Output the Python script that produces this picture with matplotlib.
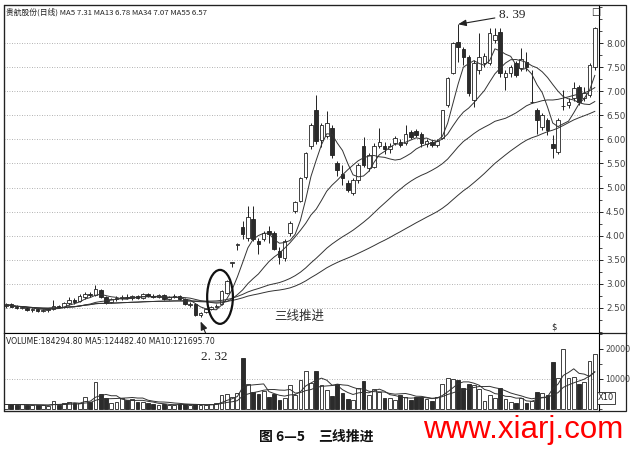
import matplotlib
matplotlib.use('Agg')
import matplotlib.pyplot as plt
from matplotlib.patches import Ellipse, Rectangle
from matplotlib.lines import Line2D
from matplotlib.ticker import MultipleLocator, FormatStrFormatter
import numpy as np
import pandas as pd

# daily prices (index = trading day)
opens = [2.55, 2.58, 2.52, 2.50, 2.50, 2.46, 2.47, 2.44, 2.45, 2.48,
         2.54, 2.52, 2.60, 2.66, 2.64, 2.72, 2.80, 2.76, 2.88, 2.72,
         2.62, 2.68, 2.70, 2.72, 2.70, 2.74, 2.70, 2.78, 2.74, 2.72,
         2.76, 2.68, 2.72, 2.74, 2.68, 2.57, 2.58, 2.36, 2.42, 2.48,
         2.52, 2.58, 2.82, 3.44, 3.80, 4.19, 3.96, 4.35, 3.90, 3.94,
         4.10, 4.06, 3.69, 3.54, 4.06, 4.52, 4.73, 5.21, 5.87, 6.62,
         5.98, 6.08, 6.23, 5.50, 5.29, 5.10, 4.88, 5.15, 5.87, 5.40,
         5.42, 5.87, 5.87, 5.79, 5.92, 5.94, 5.92, 6.15, 6.17, 6.12,
         5.90, 5.94, 5.88, 6.02, 6.71, 7.37, 8.02, 7.87, 7.71, 6.81,
         7.44, 7.58, 7.58, 8.06, 8.23, 7.29, 7.37, 7.58, 7.48, 7.60,
         6.77, 6.60, 6.25, 6.40, 5.90, 5.73, 6.69, 6.71, 6.85, 7.08,
         6.85, 6.92, 7.50]
highs = [2.60, 2.60, 2.56, 2.55, 2.52, 2.50, 2.50, 2.48, 2.50, 2.66,
         2.57, 2.62, 2.72, 2.70, 2.78, 2.84, 2.84, 2.97, 2.90, 2.75,
         2.70, 2.74, 2.76, 2.78, 2.76, 2.77, 2.82, 2.82, 2.78, 2.78,
         2.78, 2.74, 2.80, 2.76, 2.70, 2.62, 2.60, 2.42, 2.50, 2.54,
         2.58, 2.88, 3.08, 3.45, 3.85, 4.31, 4.62, 4.62, 3.95, 4.10,
         4.21, 4.10, 3.76, 3.94, 4.30, 4.72, 5.22, 5.74, 6.33, 6.92,
         6.35, 6.58, 6.30, 5.55, 5.46, 5.15, 5.20, 5.50, 6.04, 5.72,
         5.92, 6.23, 5.95, 5.92, 6.06, 6.00, 6.30, 6.20, 6.22, 6.15,
         6.00, 5.98, 6.00, 6.62, 7.30, 8.02, 8.39, 7.92, 7.75, 7.65,
         8.20, 7.80, 8.31, 8.31, 8.31, 7.45, 7.55, 7.62, 7.90, 7.81,
         7.45, 6.65, 6.55, 6.45, 6.10, 6.45, 7.02, 6.85, 7.20, 7.12,
         7.08, 7.58, 8.33]
lows = [2.50, 2.52, 2.48, 2.47, 2.44, 2.42, 2.42, 2.41, 2.42, 2.46,
        2.49, 2.50, 2.56, 2.58, 2.62, 2.68, 2.72, 2.74, 2.70, 2.58,
        2.60, 2.64, 2.66, 2.68, 2.67, 2.68, 2.69, 2.72, 2.70, 2.70,
        2.66, 2.66, 2.70, 2.66, 2.56, 2.52, 2.34, 2.32, 2.40, 2.45,
        2.49, 2.56, 2.80, 3.34, 3.70, 3.94, 3.90, 3.90, 3.62, 3.90,
        3.85, 3.70, 3.42, 3.48, 4.00, 4.48, 4.70, 5.18, 5.80, 5.90,
        5.85, 6.02, 5.62, 5.25, 5.05, 4.90, 4.85, 5.10, 5.42, 5.35,
        5.40, 5.82, 5.70, 5.72, 5.88, 5.84, 5.88, 6.00, 6.04, 5.85,
        5.85, 5.84, 5.85, 6.00, 6.68, 7.35, 7.60, 7.55, 6.90, 6.67,
        7.35, 7.50, 7.55, 8.00, 7.30, 7.02, 7.30, 7.30, 7.42, 7.42,
        6.75, 6.12, 6.20, 6.10, 5.62, 5.70, 6.62, 6.65, 6.80, 6.72,
        6.80, 6.88, 7.45]
closes = [2.57, 2.53, 2.50, 2.52, 2.46, 2.48, 2.44, 2.46, 2.48, 2.55,
          2.51, 2.60, 2.66, 2.62, 2.74, 2.80, 2.76, 2.90, 2.72, 2.60,
          2.68, 2.70, 2.73, 2.70, 2.74, 2.70, 2.79, 2.74, 2.72, 2.76,
          2.68, 2.72, 2.75, 2.68, 2.58, 2.59, 2.36, 2.40, 2.48, 2.52,
          2.55, 2.85, 3.05, 3.44, 3.83, 4.04, 4.38, 3.94, 3.83, 4.06,
          4.04, 3.73, 3.56, 3.90, 4.27, 4.69, 5.19, 5.71, 6.29, 5.96,
          6.29, 6.33, 5.67, 5.37, 5.19, 4.94, 5.15, 5.46, 5.46, 5.67,
          5.87, 5.94, 5.81, 5.87, 6.02, 5.88, 6.12, 6.04, 6.10, 5.92,
          5.96, 5.88, 5.96, 6.60, 7.27, 8.00, 7.92, 7.71, 6.96, 7.58,
          7.71, 7.73, 8.21, 8.17, 7.37, 7.37, 7.50, 7.33, 7.67, 7.50,
          6.78, 6.40, 6.50, 6.19, 5.83, 6.40, 6.70, 6.77, 7.06, 6.77,
          6.96, 7.54, 8.31]
# volume in units of x10
volumes = [1500, 1500, 1400, 1500, 1300, 1200, 1300, 1200, 1100, 2700,
           1300, 1900, 2400, 2100, 1900, 4100, 2400, 9100, 4900, 3800,
           1900, 2400, 3500, 3000, 3300, 2200, 2400, 1900, 1700, 1300,
           1500, 1300, 1400, 1800, 1500, 1300, 1600, 1300, 1300, 1500,
           1900, 4700, 4900, 4100, 5200, 16900, 8200, 5800, 4900, 6000,
           4100, 4900, 3000, 3500, 8000, 4700, 9700, 12500, 8500, 12700,
           8000, 6300, 4300, 8200, 5400, 3300, 3000, 6900, 9300, 4500,
           6600, 5800, 3500, 3500, 3000, 4500, 4100, 3000, 4100, 4100,
           3300, 2800, 4100, 8200, 10200, 10000, 9700, 7100, 8200, 8000,
           6600, 2700, 4700, 3600, 6900, 3300, 2200, 2100, 3800, 2100,
           2700, 5500, 5200, 4700, 15800, 10200, 20000, 10200, 10800, 8200,
           8900, 16000, 18300]

price_ticks = [2.50, 3.00, 3.50, 4.00, 4.50, 5.00, 5.50, 6.00, 6.50, 7.00, 7.50, 8.00]
vol_ticks = [10000, 20000]
ma_windows = [5, 13, 34, 55]
header = '贵航股份(日线) MA5 7.31 MA13 6.78 MA34 7.07 MA55 6.57'
vol_header = 'VOLUME:184294.80 MA5:124482.40 MA10:121695.70'

W, H = 631, 450
ink = '#222222'
dark = '#2b2b2b'
cjk = ['Noto Sans CJK SC', 'DejaVu Sans']

fig = plt.figure(figsize=(W / 100, H / 100), dpi=100)
ax = fig.add_axes([4 / W, 1 - 333 / H, 595 / W, 328 / H])
axv = fig.add_axes([4 / W, 1 - 411 / H, 595 / W, 78 / H], sharex=ax)

x = np.arange(len(closes))
o = np.array(opens)
c = np.array(closes)
up = c >= o
body_bot = np.minimum(o, c)
body_h = np.maximum(np.abs(c - o), 0.012)

# candles
ax.vlines(x, lows, highs, color=ink, lw=0.7, zorder=2)
ax.bar(x[up], body_h[up], bottom=body_bot[up], width=0.68, color='white',
       edgecolor=ink, linewidth=0.6, zorder=3)
ax.bar(x[~up], body_h[~up], bottom=body_bot[~up], width=0.68, color=dark,
       edgecolor=ink, linewidth=0.6, zorder=3)

# moving averages
cs = pd.Series(closes)
for n in ma_windows:
    ax.plot(x, cs.rolling(n, min_periods=1).mean(), color='#333333', lw=0.7, zorder=4)

ax.set_xlim(-0.4, 112.8)
ax.set_ylim(1.98, 8.79)
ax.yaxis.tick_right()
ax.set_yticks(price_ticks)
ax.yaxis.set_major_formatter(FormatStrFormatter('%.2f'))
ax.yaxis.set_minor_locator(MultipleLocator(0.25))
ax.tick_params(axis='y', which='major', length=3, width=0.6, labelsize=6.3,
               labelcolor='#444444', pad=2)
ax.tick_params(axis='y', which='minor', length=2, width=0.5)
ax.tick_params(axis='x', bottom=False, labelbottom=False)
ax.grid(axis='y', linestyle=(0, (1, 2)), color='#999999', lw=0.6)
for s in ax.spines.values():
    s.set_linewidth(0.8)

# volume bars
v = np.array(volumes)
axv.bar(x[up], v[up], width=0.72, color='white', edgecolor=ink, linewidth=0.6, zorder=3)
axv.bar(x[~up], v[~up], width=0.72, color=dark, edgecolor=ink, linewidth=0.6, zorder=3)
vs = pd.Series(volumes)
for n in [5, 10]:
    axv.plot(x, vs.rolling(n, min_periods=1).mean(), color='#333333', lw=0.7, zorder=4)
axv.set_ylim(-667, 25333)
axv.yaxis.tick_right()
axv.set_yticks(vol_ticks)
axv.set_yticklabels([str(t) for t in vol_ticks])
axv.yaxis.set_minor_locator(MultipleLocator(5000))
axv.tick_params(axis='y', which='major', length=3, width=0.6, labelsize=5.8,
                labelcolor='#444444', pad=1.5)
axv.tick_params(axis='y', which='minor', length=2, width=0.5)
axv.tick_params(axis='x', bottom=False, labelbottom=False)
axv.axhline(10000, linestyle=(0, (1, 2)), color='#999999', lw=0.6)
for s in axv.spines.values():
    s.set_linewidth(0.8)

# outer frame of the chart window
fig.add_artist(Rectangle((4 / W, 1 - 411 / H), 622 / W, 406 / H, transform=fig.transFigure,
                         fill=False, lw=0.9, color=ink))
fig.add_artist(Line2D([599 / W, 626 / W], [1 - 333 / H, 1 - 333 / H],
                      transform=fig.transFigure, lw=0.9, color=ink))

# header texts
fig.text(6 / W, 1 - 12 / H, header, fontsize=5.6, family=cjk, color=ink, va='center')
fig.text(6 / W, 1 - 342 / H, vol_header, fontsize=5.6, color=ink, va='center')
fig.text(606 / W, 1 - 398 / H, 'X10', fontsize=6, color=ink, ha='center', va='center',
         bbox=dict(boxstyle='square,pad=0.15', fc='white', ec=ink, lw=0.6))
fig.text(596 / W, 1 - 12 / H, '□', fontsize=7, color=ink, ha='center', va='center')
fig.text(554 / W, 1 - 327 / H, '$', fontsize=6, color=ink, ha='center', va='center')

# annotations
ax.annotate('8. 39', xy=(86, highs[86]), xytext=(499, H - 15), textcoords='figure pixels',
            fontsize=9.5, family='Liberation Serif', color=ink, ha='left', va='center',
            arrowprops=dict(arrowstyle='-|>,head_length=0.5,head_width=0.2', color=ink,
                            lw=0.8, shrinkA=1, shrinkB=0))
ax.annotate('', xy=(37, lows[37] - 0.1), xytext=(212, H - 348), textcoords='figure pixels',
            arrowprops=dict(arrowstyle='-|>,head_length=0.5,head_width=0.2', color=ink,
                            lw=0.8, shrinkA=0, shrinkB=0), annotation_clip=False)
fig.text(214 / W, 1 - 357 / H, '2. 32', fontsize=9.5, family='Liberation Serif', color=ink,
         ha='center', va='center')
ax.add_patch(Ellipse((40.7, 2.73), 4.9, 1.12, fill=False, lw=1.6, color='#111111', zorder=5))
ax.text(51.1, 2.33, '三线推进', fontsize=9, family=cjk, color='#333333', ha='left', va='center')

# caption and watermark
fig.text(259 / W, 1 - 437 / H, '图 6—5', fontsize=10, family=cjk, weight='bold',
         color='#111111', va='center')
fig.text(318 / W, 1 - 437 / H, '三线推进', fontsize=10, family=cjk, weight='bold',
         color='#111111', va='center')
fig.text(423 / W, 1 - 430 / H, 'www.xiarj.com', fontsize=22.5, family='Liberation Sans',
         color='#ff0000', va='center')

fig.savefig('out.png', dpi=100)
